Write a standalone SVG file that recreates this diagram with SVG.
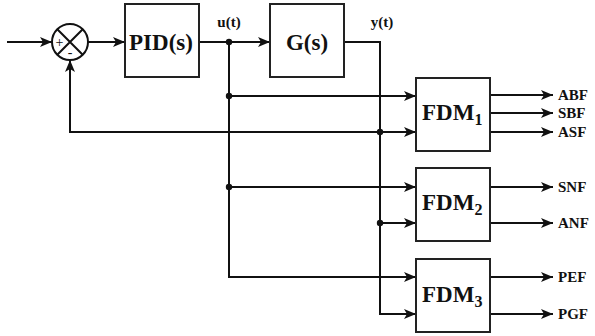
<svg xmlns="http://www.w3.org/2000/svg" width="595" height="336" viewBox="0 0 595 336">
<style>
.box{fill:#fff;stroke:#222;stroke-width:2}
.ln{fill:none;stroke:#111;stroke-width:2}
.arr{marker-end:url(#ah)}
text{font-family:'Liberation Serif','DejaVu Serif',serif;font-weight:bold;fill:#111}
.lbl{font-size:15px}
.big{font-size:23px}
.sub{font-size:16px}
.sgn{font-size:14px;font-weight:normal}
.dot{fill:#111}
</style>
<defs>
<marker id="ah" markerWidth="14" markerHeight="12" refX="12" refY="5" orient="auto" markerUnits="userSpaceOnUse">
<path d="M0,0 L12,5 L0,10 L3,5 z" fill="#111"/>
</marker>
</defs>
<rect width="595" height="336" fill="#fff"/>
<g id="connectors">
<path class="ln arr" d="M7,42 H52"/>
<path class="ln arr" d="M88,42 H125"/>
<path class="ln arr" d="M199,42 H270"/>
<path class="ln arr" d="M229,42 V277 H416"/>
<path class="ln arr" d="M229,96 H416"/>
<path class="ln arr" d="M229,187 H416"/>
<path class="ln arr" d="M344,42 H380 V314 H416"/>
<path class="ln arr" d="M380,132 H416"/>
<path class="ln arr" d="M380,223 H416"/>
<path class="ln arr" d="M380,132 H70 V60"/>
<path class="ln arr" d="M490,95 H553"/>
<path class="ln arr" d="M490,113 H553"/>
<path class="ln arr" d="M490,132 H553"/>
<path class="ln arr" d="M490,187 H553"/>
<path class="ln arr" d="M490,223 H553"/>
<path class="ln arr" d="M490,277 H553"/>
<path class="ln arr" d="M490,314 H553"/>
<circle class="dot" cx="229" cy="42" r="3.2"/>
<circle class="dot" cx="229" cy="96" r="3.2"/>
<circle class="dot" cx="229" cy="187" r="3.2"/>
<circle class="dot" cx="380" cy="132" r="3.2"/>
<circle class="dot" cx="380" cy="223" r="3.2"/>
<text class="lbl" x="229" y="27" text-anchor="middle">u(t)</text>
<text class="lbl" x="382" y="27" text-anchor="middle">y(t)</text>
<text class="lbl" x="558" y="99.5">ABF</text>
<text class="lbl" x="558" y="117.5">SBF</text>
<text class="lbl" x="558" y="136.5">ASF</text>
<text class="lbl" x="558" y="191.5">SNF</text>
<text class="lbl" x="558" y="227.5">ANF</text>
<text class="lbl" x="558" y="281.5">PEF</text>
<text class="lbl" x="558" y="318.5">PGF</text>
</g>
<g id="sum">
<circle cx="70" cy="42" r="18" fill="#fff" stroke="#111" stroke-width="2"/>
<path class="ln" d="M57.3,29.3 L82.7,54.7 M82.7,29.3 L57.3,54.7" stroke-width="1.6"/>
<text class="sgn" x="59.5" y="46.5" text-anchor="middle">+</text>
<text class="sgn" x="70" y="57" text-anchor="middle">-</text>
</g>
<g id="pid">
<rect class="box" x="125" y="4" width="74" height="73"/>
<text class="big" x="161" y="50" text-anchor="middle">PID(s)</text>
</g>
<g id="gs">
<rect class="box" x="270" y="4" width="74" height="73"/>
<text class="big" x="307" y="50" text-anchor="middle">G(s)</text>
</g>
<g id="fdm1">
<rect class="box" x="416" y="78" width="74" height="73"/>
<text class="big" x="422" y="120">FDM<tspan class="sub" dy="5">1</tspan></text>
</g>
<g id="fdm2">
<rect class="box" x="416" y="168" width="74" height="73"/>
<text class="big" x="422" y="210">FDM<tspan class="sub" dy="5">2</tspan></text>
</g>
<g id="fdm3">
<rect class="box" x="416" y="259" width="74" height="73"/>
<text class="big" x="422" y="302">FDM<tspan class="sub" dy="5">3</tspan></text>
</g>
</svg>
